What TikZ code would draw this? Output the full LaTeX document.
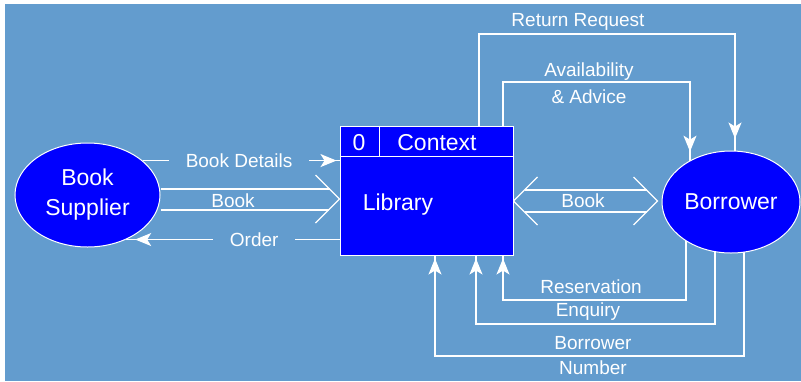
\documentclass[tikz,border=0pt]{standalone}
\usepackage{fontspec}
\setmainfont{Liberation Sans}
\usetikzlibrary{arrows.meta,calc,shapes.geometric}
\pgfdeclarelayer{bg}
\pgfdeclarelayer{conn}
\pgfsetlayers{bg,conn,main}
\definecolor{bgc}{RGB}{99,156,206}
\definecolor{nodeblue}{RGB}{0,0,255}
\tikzset{
  flow/.style={white, line width=1.3pt, line join=miter},
  tipend/.style={-{Stealth[length=16pt,width=13pt,inset=4pt]}, shorten >=#1},
  lab/.style={text=white, font=\fontsize{19}{25}\selectfont, inner sep=0pt, align=center},
  cut/.style={fill=bgc, inner xsep=17pt, inner ysep=3pt},
  ent/.style={ellipse, draw=white, line width=1pt, fill=nodeblue, text=white, font=\fontsize{23}{30}\selectfont, align=center, inner sep=0pt},
  boxtxt/.style={text=white, font=\fontsize{23}{28}\selectfont, inner sep=0pt},
}
\begin{document}
\begin{tikzpicture}[x=1pt,y=-1pt]
\useasboundingbox (0,0) rectangle (801,381);
\begin{pgfonlayer}{bg}
  \fill[white] (0,0) rectangle (801,381);
  \fill[bgc] (5,4) rectangle (801,381);
\end{pgfonlayer}

% nodes
\node[ent, minimum width=145pt, minimum height=104pt] (sup) at (87.5,195) {Book\\Supplier};
\node[ent, minimum width=138pt, minimum height=102pt] (bor) at (731,202) {Borrower};
\node[draw=white, line width=1pt, fill=nodeblue, minimum width=173pt, minimum height=129pt, inner sep=0pt] (lib) at (426.5,190.5) {};
\draw[white, line width=1pt] ($(lib.north west)+(0,31)$) -- ($(lib.north east)+(0,31)$);
\draw[white, line width=1pt] ($(lib.north west)+(40,0)$) -- ($(lib.north west)+(40,31)$);
\node[boxtxt] (num) at (359,143) {0};
\node[boxtxt] (ctx) at (437,143) {Context};
\node[boxtxt] (libname) at (398,205) {Library};

\begin{pgfonlayer}{conn}
  % Book Details
  \draw[flow] (sup.32) -- (sup.32 -| lib.west)
    node[lab, cut, pos=0.49] (lbd) {Book Details};
  \draw[flow, tipend=3pt] (lbd.east) -- (sup.32 -| lib.west);
  % Order
  \draw[flow] (lib.west |- sup.-49) -- (sup.-49)
    node[lab, cut, pos=0.4] (lord) {Order};
  \draw[flow, tipend=9pt] (lord.west) -- (sup.-49);
  % Book (supplier -> library)
  \coordinate (T1) at ($(lib.west)+(0,8.5)$);
  \draw[flow] ($(T1)+(-24,-24)$) -- (T1) -- ($(T1)+(-24,24)$);
  \draw[flow] ($(sup.east)+(0,-6)$) -- ($(T1)+(-10,-10)$);
  \draw[flow] ($(sup.east)+(0,15)$) -- ($(T1)+(-11,11)$);
  \node[lab] (lbook1) at (233,201) {Book};
  % Book (library <-> borrower)
  \coordinate (T2) at ($(lib.east)+(0,10.5)$);
  \coordinate (T3) at ($(bor.west)+(-4,-1)$);
  \draw[flow] ($(T2)+(24,-24)$) -- (T2) -- ($(T2)+(24,24)$);
  \draw[flow] ($(T3)+(-24,-24)$) -- (T3) -- ($(T3)+(-24,24)$);
  \draw[flow] ($(T2)+(11,-11)$) -- ($(T3)+(-11,-11)$);
  \draw[flow] ($(T2)+(11,11)$) -- ($(T3)+(-11,11)$);
  \node[lab] (lbook2) at (583,201) {Book};
  % Return Request
  \coordinate (rqA) at (479,34);
  \coordinate (rqB) at (735,34);
  \draw[flow] (lib.north -| rqA) -- (rqA) -- (rqB) -- (rqB |- bor.north);
  \draw[flow, tipend=12pt] (rqB) -- (rqB |- bor.north);
  \node[lab] (lrr) at (578,22) {Return Request};
  % Availability & Advice
  \coordinate (avA) at (503,82);
  \coordinate (avB) at (690,82);
  \draw[flow] (lib.north -| avA) -- (avA) -- (avB) -- (avB |- bor.135);
  \draw[flow, tipend=9pt] (avB) -- (avB |- bor.135);
  \node[lab, font=\fontsize{19}{27}\selectfont] (lav) at (589,83.5) {Availability\\\& Advice};
  % Reservation
  \coordinate (rsA) at (686,300);
  \coordinate (rsB) at (503,300);
  \draw[flow] (bor.center -| rsA) -- (rsA) -- (rsB) -- (rsB |- lib.south);
  \draw[flow, tipend=3pt] (rsB) -- (rsB |- lib.south);
  \node[lab] (lrs) at (591,287) {Reservation};
  % Enquiry
  \coordinate (enA) at (715,324);
  \coordinate (enB) at (476,324);
  \draw[flow] (bor.center -| enA) -- (enA) -- (enB) -- (enB |- lib.south);
  \draw[flow, tipend=3pt] (enB) -- (enB |- lib.south);
  \node[lab] (len) at (588,312) {Enquiry};
  % Borrower Number
  \coordinate (bnA) at (744,356);
  \coordinate (bnB) at (435,356);
  \draw[flow] (bor.center -| bnA) -- (bnA) -- (bnB) -- (bnB |- lib.south);
  \draw[flow, tipend=3pt] (bnB) -- (bnB |- lib.south);
  \node[lab] (lbn) at (593,355.5) {Borrower\\Number};
\end{pgfonlayer}
\end{tikzpicture}
\end{document}
